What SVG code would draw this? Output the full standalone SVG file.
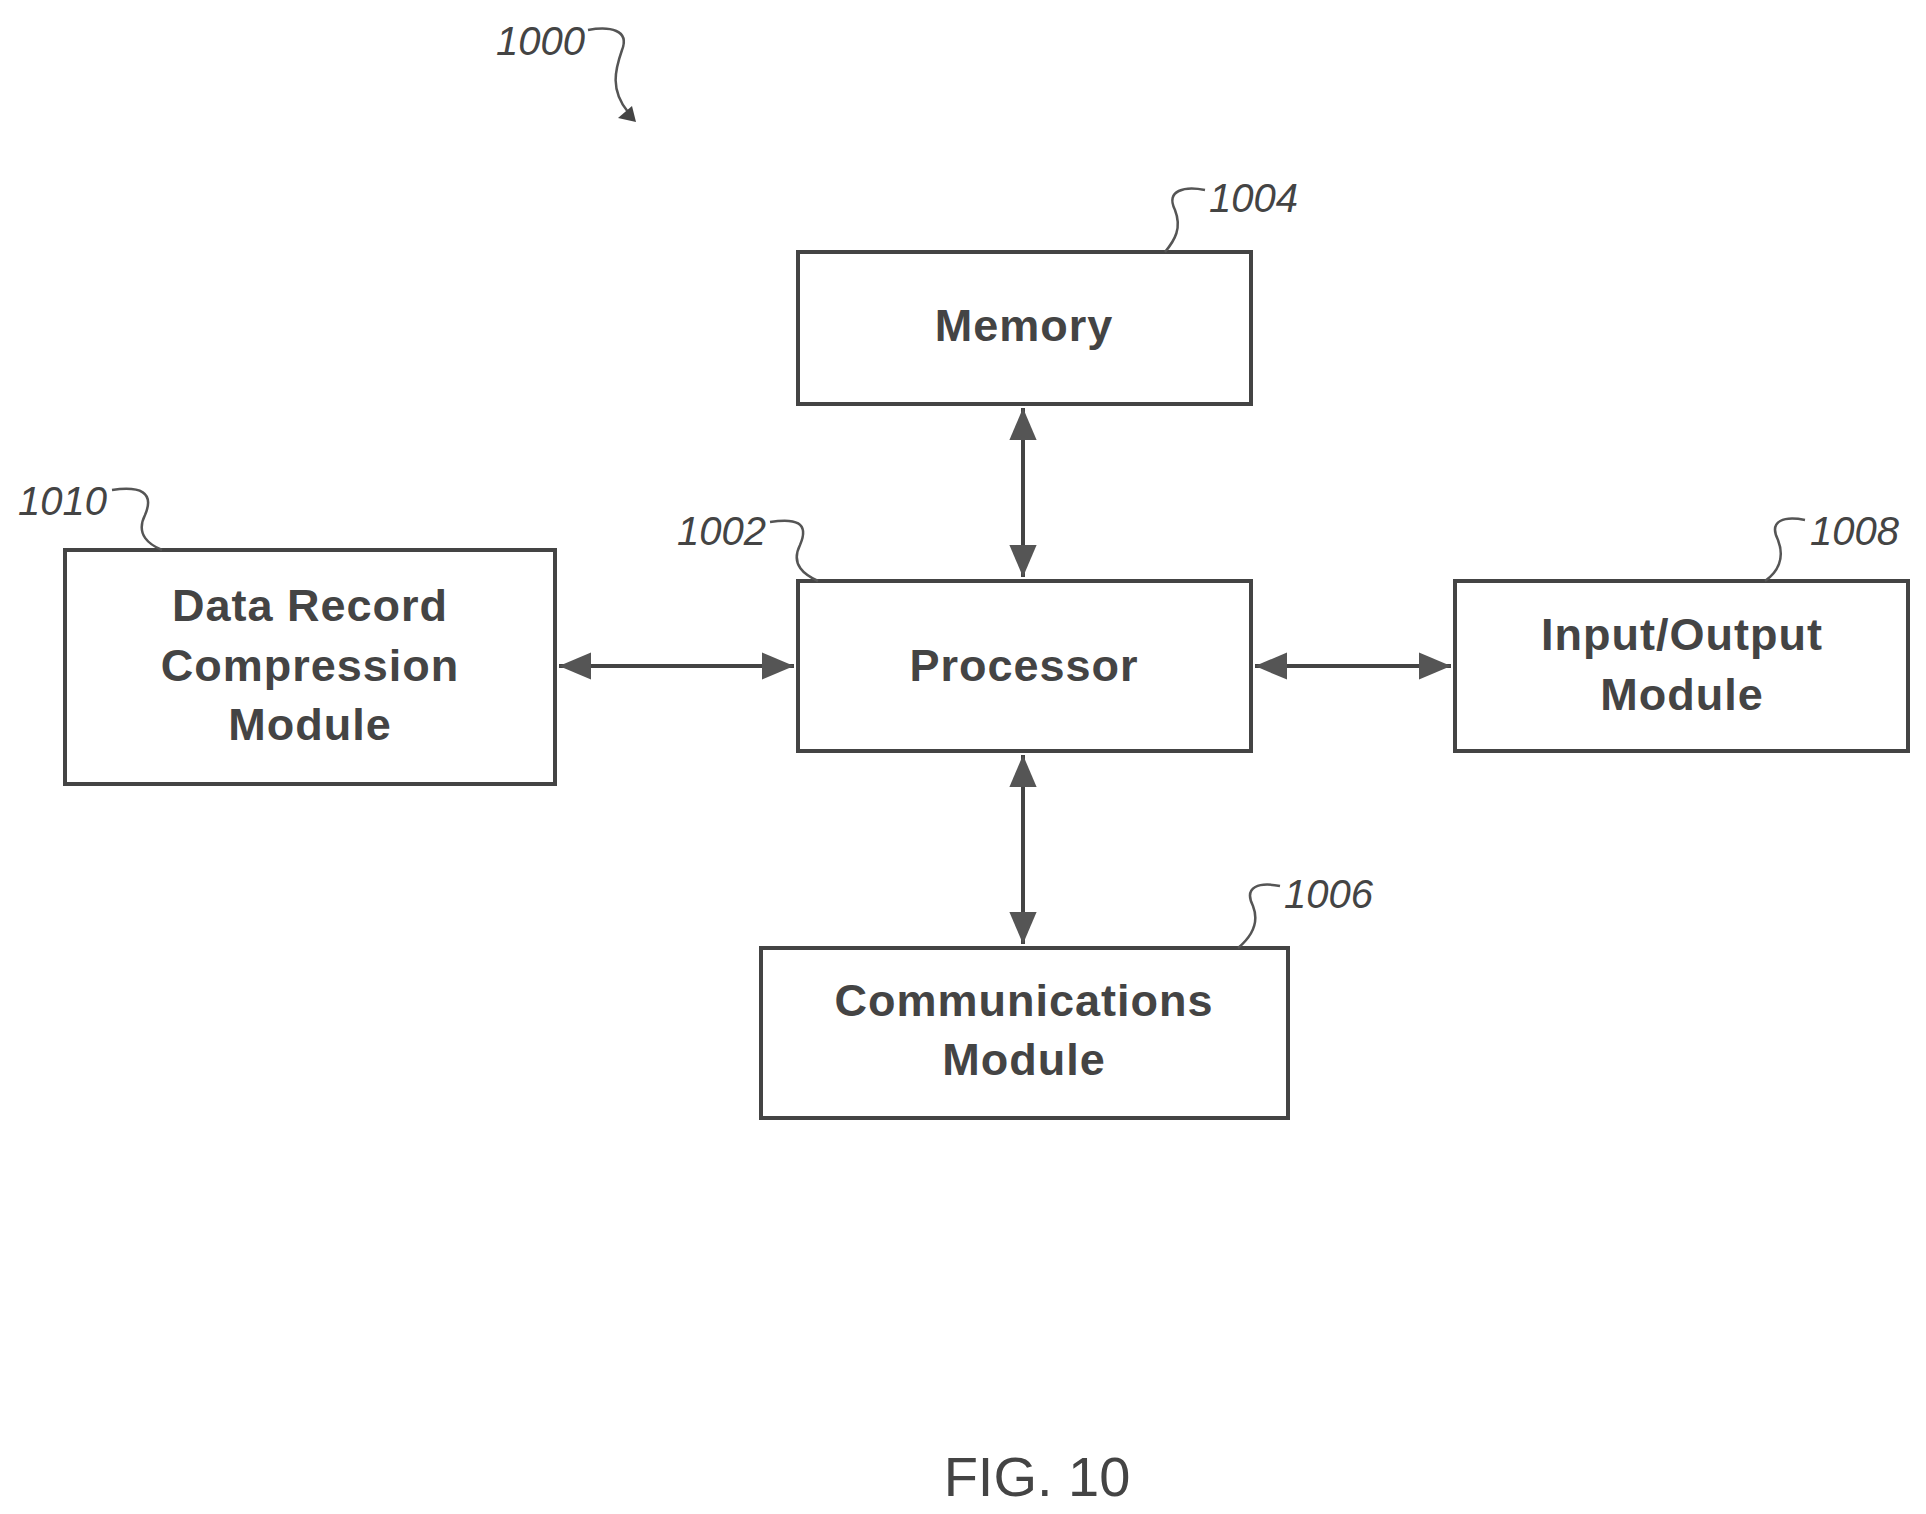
<svg xmlns="http://www.w3.org/2000/svg" width="1926" height="1514" viewBox="0 0 1926 1514">
<style>
.box{fill:#fff;stroke:#444;stroke-width:4}
.t{font-family:"Liberation Sans",Arial,sans-serif;font-weight:bold;font-size:45px;fill:#444;text-anchor:middle;letter-spacing:1px}
.ref{font-family:"Liberation Sans",Arial,sans-serif;font-style:italic;font-size:40px;fill:#444}
.ld{fill:none;stroke:#555;stroke-width:2.5}
.c{stroke:#444;stroke-width:4;fill:none;marker-start:url(#a);marker-end:url(#a)}
</style>
<defs>
<marker id="a" viewBox="0 0 10 10" refX="10" refY="5" markerWidth="8" markerHeight="8" orient="auto-start-reverse" markerUnits="userSpaceOnUse" style="overflow:visible">
<path d="M0,-12 L40,5 L0,22 Z" fill="#555" transform="translate(-30,0)"/>
</marker>
</defs>
<rect width="1926" height="1514" fill="#fff"/>
<g id="connectors">
<line class="c" x1="1023" y1="408" x2="1023" y2="577"/>
<line class="c" x1="1023" y1="755" x2="1023" y2="944"/>
<line class="c" x1="559" y1="666" x2="794" y2="666"/>
<line class="c" x1="1255" y1="666" x2="1451" y2="666"/>
</g>
<g id="n1000"><text class="ref" x="496" y="55">1000</text>
<path class="ld" d="M588,30 C610,26 630,30 622,50 C615,70 610,90 628,112"/><path d="M618,118 L632,106 L636,122 Z" fill="#444"/></g>
<g id="memory"><rect class="box" x="798" y="252" width="453" height="152"/><text class="t" x="1024" y="341">Memory</text>
<text class="ref" x="1209" y="212">1004</text><path class="ld" d="M1205,190 C1185,186 1165,190 1175,210 C1182,228 1175,240 1165,252"/></g>
<g id="processor"><rect class="box" x="798" y="581" width="453" height="170"/><text class="t" x="1024" y="681">Processor</text>
<text class="ref" x="677" y="545">1002</text><path class="ld" d="M770,522 C795,518 810,522 800,545 C790,565 805,575 818,581"/></g>
<g id="drc"><rect class="box" x="65" y="550" width="490" height="234"/>
<text class="t" x="310" y="621">Data Record</text><text class="t" x="310" y="681">Compression</text><text class="t" x="310" y="740">Module</text>
<text class="ref" x="18" y="515">1010</text><path class="ld" d="M112,490 C140,486 155,492 145,515 C135,535 150,545 162,550"/></g>
<g id="io"><rect class="box" x="1455" y="581" width="453" height="170"/>
<text class="t" x="1682" y="650">Input/Output</text><text class="t" x="1682" y="710">Module</text>
<text class="ref" x="1810" y="545">1008</text><path class="ld" d="M1805,520 C1785,516 1768,520 1778,540 C1785,558 1778,572 1765,581"/></g>
<g id="comm"><rect class="box" x="761" y="948" width="527" height="170"/>
<text class="t" x="1024" y="1016">Communications</text><text class="t" x="1024" y="1075">Module</text>
<text class="ref" x="1284" y="908">1006</text><path class="ld" d="M1280,886 C1260,882 1243,886 1253,906 C1260,924 1250,938 1238,948"/></g>
<text x="1037" y="1496" style="font-family:'Liberation Sans',Arial,sans-serif;font-size:56px;fill:#444;text-anchor:middle">FIG. 10</text>
</svg>
